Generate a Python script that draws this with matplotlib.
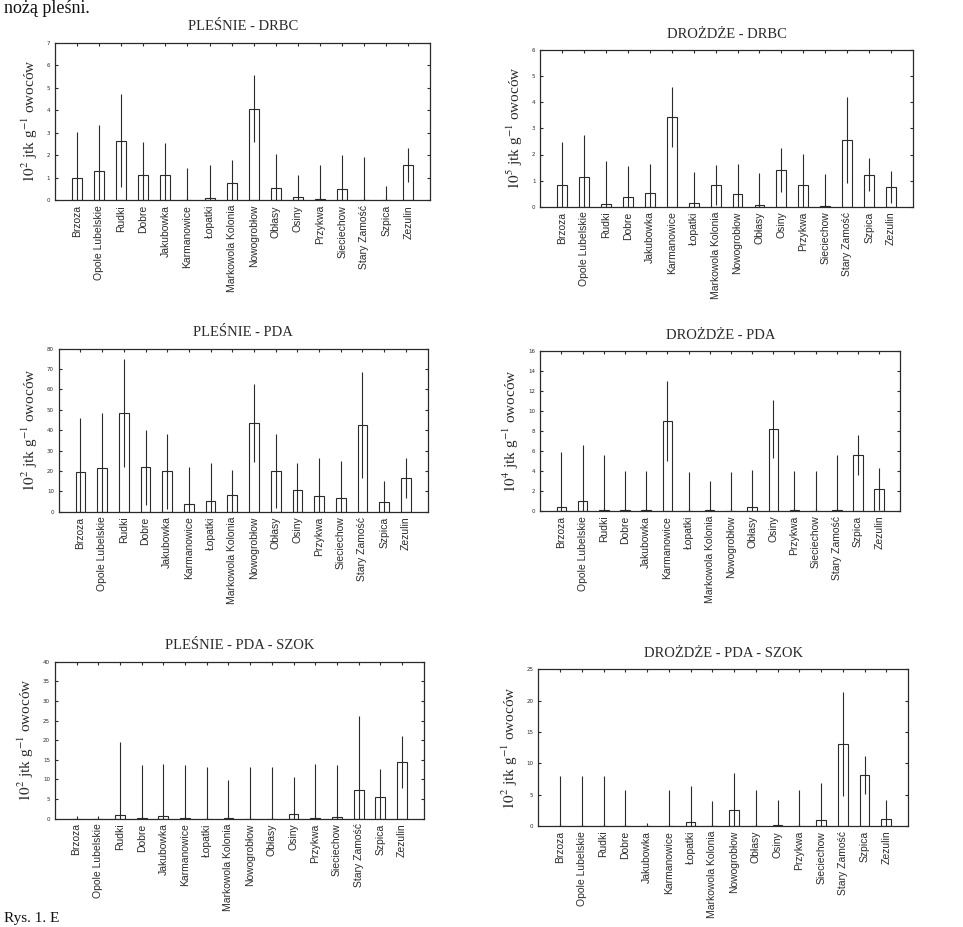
import numpy as np
import matplotlib
matplotlib.use("Agg")
import matplotlib.pyplot as plt

plt.rcParams["mathtext.fontset"] = "stix"

places = ["Brzoza", "Opole Lubelskie", "Rudki", "Dobre", "Jakubowka",
          "Karmanowice", "Łopatki", "Markowola Kolonia", "Nowogrobłow",
          "Obłasy", "Osiny", "Przykwa", "Sieciechow", "Stary Zamość",
          "Szpica", "Zezulin"]

# plesnie - DRBC (10^2)
pl_drbc_mean = [1.0, 1.3, 2.65, 1.12, 1.12, 0.0, 0.08, 0.75, 4.07, 0.55, 0.13, 0.06, 0.5, 0.0, 0.0, 1.55]
pl_drbc_sd = [2.05, 2.05, 2.05, 1.46, 1.4, 1.43, 1.5, 1.05, 1.5, 1.52, 0.97, 1.5, 1.52, 1.93, 0.62, 0.75]
# drozdze - DRBC (10^5)
dr_drbc_mean = [0.82, 1.14, 0.1, 0.37, 0.52, 3.43, 0.16, 0.84, 0.48, 0.08, 1.41, 0.85, 0.02, 2.57, 1.23, 0.75]
dr_drbc_sd = [1.65, 1.62, 1.67, 1.18, 1.11, 1.15, 1.16, 0.76, 1.16, 1.2, 0.85, 1.18, 1.22, 1.65, 0.63, 0.62]
# plesnie - PDA (10^2)
pl_pda_mean = [19.5, 21.6, 48.5, 21.8, 19.8, 4.0, 5.2, 8.4, 43.4, 20.0, 10.6, 7.9, 6.9, 42.3, 4.9, 16.4]
pl_pda_sd = [26.5, 26.7, 26.6, 18.3, 18.5, 18.0, 18.5, 12.0, 19.0, 18.2, 13.2, 18.4, 18.1, 26.0, 10.0, 9.8]
# drozdze - PDA (10^4)
dr_pda_mean = [0.4, 1.03, 0.05, 0.05, 0.05, 9.0, 0.02, 0.1, 0.02, 0.35, 8.2, 0.05, 0.02, 0.05, 5.6, 2.2]
dr_pda_sd = [5.45, 5.57, 5.5, 3.95, 3.98, 4.0, 3.9, 2.9, 3.9, 3.75, 2.9, 3.95, 3.95, 5.55, 2.05, 2.1]
# plesnie - PDA - SZOK (10^2)
pl_szok_mean = [0, 0, 0.8, 0.1, 0.6, 0.1, 0.0, 0.2, 0.0, 0.0, 1.2, 0.1, 0.3, 7.2, 5.5, 14.5]
pl_szok_sd = [0, 0, 18.8, 13.6, 13.2, 13.5, 13.2, 9.6, 13.1, 13.1, 9.5, 13.7, 13.3, 19.0, 7.1, 6.7]
# drozdze - PDA - SZOK (10^2)
dr_szok_mean = [0, 0, 0, 0, 0, 0, 0.6, 0, 2.6, 0, 0.1, 0, 0.9, 13.1, 8.1, 1.1]
dr_szok_sd = [8.0, 8.0, 8.0, 5.8, 0, 5.8, 5.8, 4.0, 5.8, 5.8, 4.0, 5.7, 5.9, 8.3, 3.0, 3.1]

panels = [
    ("PLEŚNIE - DRBC", pl_drbc_mean, pl_drbc_sd, "2", 7, 1, [0.057, 0.784, 0.390, 0.170]),
    ("DROŻDŻE - DRBC", dr_drbc_mean, dr_drbc_sd, "5", 6, 1, [0.561, 0.777, 0.387, 0.169]),
    ("PLEŚNIE - PDA", pl_pda_mean, pl_pda_sd, "2", 80, 10, [0.061, 0.448, 0.383, 0.176]),
    ("DROŻDŻE - PDA", dr_pda_mean, dr_pda_sd, "4", 16, 2, [0.561, 0.449, 0.374, 0.172]),
    ("PLEŚNIE - PDA - SZOK", pl_szok_mean, pl_szok_sd, "2", 40, 5, [0.057, 0.117, 0.383, 0.169]),
    ("DROŻDŻE - PDA - SZOK", dr_szok_mean, dr_szok_sd, "2", 25, 5, [0.559, 0.109, 0.384, 0.169]),
]

ink = "#2a2a2a"
serif = "Liberation Serif"
sans = "Liberation Sans"

fig = plt.figure(figsize=(9.63, 9.27), dpi=100)

x = np.arange(len(places))
for title, mean, sd, power, ymax, step, rect in panels:
    ax = fig.add_axes(rect)
    ax.bar(x, mean, width=0.45, color="white", edgecolor=ink, linewidth=0.8, zorder=2)
    ax.errorbar(x, mean, yerr=sd, fmt="none", ecolor=ink, elinewidth=0.8, capsize=0, zorder=3)
    ax.set_xlim(-1, len(places))
    ax.set_ylim(0, ymax)
    ax.set_yticks(np.arange(0, ymax + step / 2, step))
    ax.set_xticks(x)
    ax.set_xticklabels(places, rotation=90, fontsize=7.5, family=sans, color=ink)
    ax.tick_params(axis="y", labelsize=4, colors=ink, direction="in", length=2.5, right=True)
    ax.tick_params(axis="x", direction="in", length=2.5, top=True, colors=ink)
    for lab in ax.get_xticklabels():
        lab.set_color(ink)
    for s in ax.spines.values():
        s.set_color(ink)
        s.set_linewidth(0.9)
    ax.set_title(title, fontsize=10.5, family=serif, color=ink, pad=9)
    ax.set_ylabel(r"$10^{%s}$ jtk g$^{-1}$ owoców" % power, fontsize=11,
                  family=serif, color=ink, labelpad=5)

fig.text(0.004, 1 - 13 / 927, "nożą pleśni.", fontsize=13, family=serif,
         color="#111111", va="baseline")
fig.text(0.004, 2 / 927, "Rys. 1. E", fontsize=11, family=serif,
         color="#111111", va="bottom")

fig.savefig("out.png", dpi=100, facecolor="white")
